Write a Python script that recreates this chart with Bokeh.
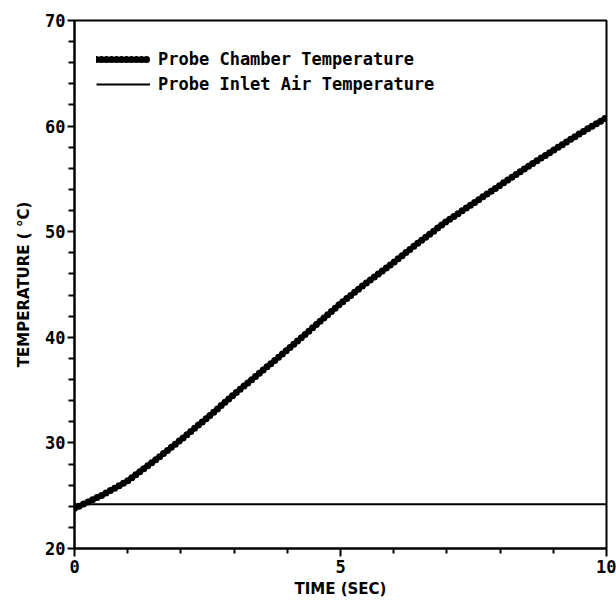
from bokeh.plotting import figure
from bokeh.models import Range1d, FixedTicker, Legend, LegendItem
from bokeh.embed import file_html
from bokeh.resources import INLINE

# Probe warm-up record: time in seconds, temperatures in degrees C
time_s = [0, 0.5, 1, 1.5, 2, 2.5, 3, 3.5, 4, 4.5, 5,
          5.5, 6, 6.5, 7, 7.5, 8, 8.5, 9, 9.5, 10]
chamber_temp = [23.8, 25.0, 26.4, 28.3, 30.3, 32.4, 34.6, 36.7, 38.8, 41.0, 43.2,
                45.2, 47.1, 49.1, 51.0, 52.7, 54.4, 56.1, 57.7, 59.3, 60.8]
inlet_time = [0, 10]
inlet_temp = [24.2, 24.2]

x_major = [0, 5, 10]
x_minor = [1, 2, 3, 4, 6, 7, 8, 9]
y_major = [20, 30, 40, 50, 60, 70]
y_minor = [22, 24, 26, 28, 32, 34, 36, 38, 42, 44, 46, 48,
           52, 54, 56, 58, 62, 64, 66, 68]

p = figure(width=616, height=601, output_backend="svg", toolbar_location=None,
           x_range=Range1d(0, 10), y_range=Range1d(20, 70),
           min_border_left=74, min_border_right=10,
           min_border_top=20, min_border_bottom=53)
p.grid.visible = False
p.outline_line_color = "black"
p.outline_line_width = 2
p.background_fill_color = "white"
p.border_fill_color = "white"

chamber = p.line(time_s, chamber_temp, line_color="black", line_width=7,
                 line_dash="0 5", line_cap="round", line_join="round")
inlet = p.line(inlet_time, inlet_temp, line_color="black", line_width=2)

tick_font = "DejaVu Sans Mono"
for ax, major, minor in ((p.xaxis[0], x_major, x_minor), (p.yaxis[0], y_major, y_minor)):
    ax.ticker = FixedTicker(ticks=major, minor_ticks=minor)
    ax.axis_line_width = 2
    ax.axis_line_color = "black"
    ax.major_tick_line_width = 2
    ax.minor_tick_line_width = 2
    ax.major_tick_in = 0
    ax.minor_tick_in = 0
    ax.major_label_text_font = tick_font
    ax.major_label_text_font_style = "bold"
    ax.major_label_text_font_size = "17px"
    ax.major_label_text_color = "black"
    ax.axis_label_text_font = "DejaVu Sans"
    ax.axis_label_text_font_style = "bold"
    ax.axis_label_text_font_size = "15px"
    ax.axis_label_text_color = "black"

p.xaxis.major_tick_out = 8
p.xaxis.minor_tick_out = 5
p.yaxis.major_tick_out = 7
p.yaxis.minor_tick_out = 6
p.xaxis.major_label_standoff = 3
p.yaxis.major_label_standoff = 2
p.xaxis.axis_label = "TIME (SEC)"
p.yaxis.axis_label = "TEMPERATURE ( °C)"
p.xaxis.axis_label_standoff = 4
p.yaxis.axis_label_standoff = 9

legend = Legend(items=[
    LegendItem(label="Probe Chamber Temperature", renderers=[chamber]),
    LegendItem(label="Probe Inlet Air Temperature", renderers=[inlet]),
], location=(22, 454), margin=0, padding=0, spacing=5,
    glyph_width=54, glyph_height=20, label_height=20, label_standoff=8,
    label_text_font=tick_font, label_text_font_style="bold",
    label_text_font_size="17px", label_text_color="black",
    border_line_alpha=0, background_fill_alpha=0)
p.add_layout(legend, "center")

open("out.html", "w").write(file_html(p, INLINE))
